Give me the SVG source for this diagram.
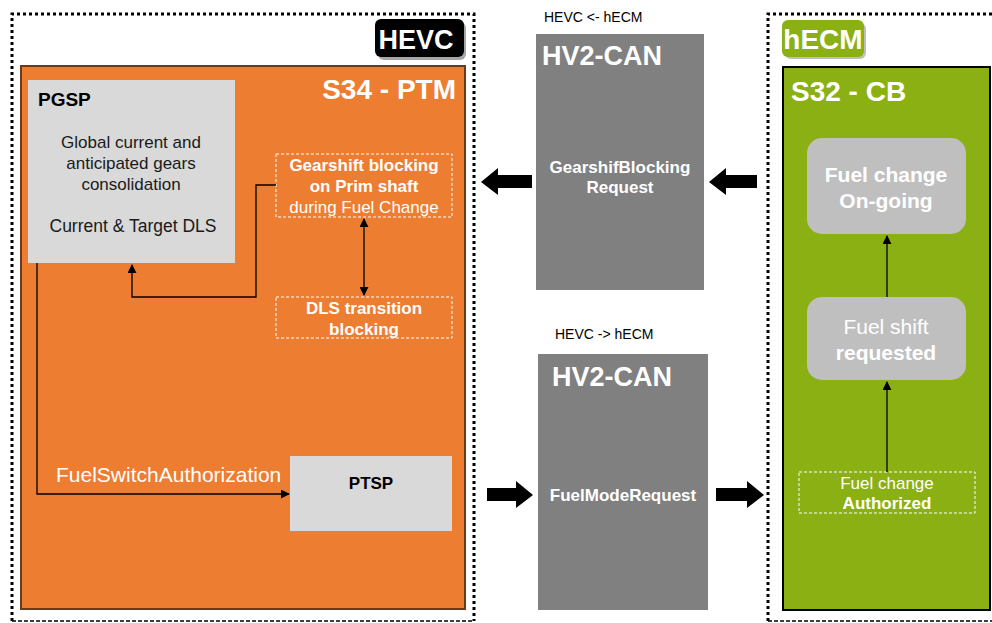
<svg xmlns="http://www.w3.org/2000/svg" width="992" height="623" viewBox="0 0 992 623">
<defs>
<style>
text{font-family:"Liberation Sans",Arial,sans-serif}
.dot{fill:none;stroke:#000;stroke-width:3;stroke-dasharray:3 3}
.dash{fill:none;stroke:#000;stroke-width:1.5;stroke-dasharray:4 2}
.w{fill:#fff}
.b{font-weight:bold}
.wd{fill:none;stroke:#fff;stroke-width:1;stroke-dasharray:3 2}
.ln{fill:none;stroke:#000;stroke-width:1.3}
.blk{fill:#000}
</style>
<marker id="ah" viewBox="0 0 10 10" refX="9" refY="5" markerWidth="9" markerHeight="9" markerUnits="userSpaceOnUse" orient="auto-start-reverse"><path d="M0,0 L10,5 L0,10 z" fill="#000"/></marker>
</defs>
<rect width="992" height="623" fill="#fff"/>

<g id="hevc">
<path class="dot" d="M12,621 V14 H474 V621"/>
<path class="dash" d="M12,621 H474"/>
<rect x="378" y="22" width="88" height="38" rx="6" fill="#000" opacity="0.35"/>
<rect x="375" y="19" width="89" height="38" rx="6" fill="#000"/>
<text x="416" y="49" text-anchor="middle" class="w b" font-size="27">HEVC</text>
</g>

<g id="s34">
<rect x="21" y="66" width="444" height="543" fill="#ED7D31" stroke="#6B3A1A" stroke-width="2"/>
<text x="456" y="99" text-anchor="end" class="w b" font-size="28">S34 - PTM</text>
</g>

<g id="pgsp">
<rect x="28" y="80" width="207" height="183" fill="#D9D9D9"/>
<text x="38" y="106" class="b" font-size="19">PGSP</text>
<text x="131" y="148" text-anchor="middle" font-size="17" fill="#1a1a1a">Global current and</text>
<text x="131" y="169" text-anchor="middle" font-size="17" fill="#1a1a1a">anticipated gears</text>
<text x="131" y="190" text-anchor="middle" font-size="17" fill="#1a1a1a">consolidation</text>
<text x="133" y="232" text-anchor="middle" font-size="17.5" fill="#1a1a1a">Current &amp; Target DLS</text>
</g>

<g id="gearshift">
<rect x="276" y="154" width="176" height="63" class="wd"/>
<text x="364" y="171" text-anchor="middle" class="w b" font-size="17">Gearshift blocking</text>
<text x="364" y="192" text-anchor="middle" class="w b" font-size="17">on Prim shaft</text>
<text x="364" y="213" text-anchor="middle" class="w" font-size="17">during Fuel Change</text>
</g>

<g id="dls">
<rect x="276" y="297" width="176" height="41" class="wd"/>
<text x="364" y="314" text-anchor="middle" class="w b" font-size="17">DLS transition</text>
<text x="364" y="335" text-anchor="middle" class="w b" font-size="17">blocking</text>
</g>

<g id="ptsp">
<rect x="290" y="456" width="162" height="75" fill="#D9D9D9"/>
<text x="371" y="489" text-anchor="middle" class="b" font-size="17">PTSP</text>
</g>

<g id="can1">
<text x="544" y="22" font-size="14" fill="#000">HEVC &lt;- hECM</text>
<rect x="536" y="34" width="168" height="256" fill="#808080"/>
<text x="542" y="65" class="w b" font-size="27">HV2-CAN</text>
<text x="620" y="173" text-anchor="middle" class="w b" font-size="17">GearshifBlocking</text>
<text x="620" y="193" text-anchor="middle" class="w b" font-size="17">Request</text>
</g>

<g id="can2">
<text x="555" y="339" font-size="14" fill="#000">HEVC -&gt; hECM</text>
<rect x="538" y="354" width="170" height="256" fill="#808080"/>
<text x="552" y="386" class="w b" font-size="27">HV2-CAN</text>
<text x="623" y="501" text-anchor="middle" class="w b" font-size="17">FuelModeRequest</text>
</g>

<g id="hecm">
<path class="dot" d="M768,621 V14 H992"/>
<path class="dash" d="M768,621 H992"/>
<rect x="785" y="23" width="81" height="36" rx="6" fill="#000" opacity="0.25"/>
<rect x="782" y="20" width="82" height="37" rx="6" fill="#8BB014"/>
<text x="823" y="49" text-anchor="middle" class="w b" font-size="28">hECM</text>
</g>

<g id="s32">
<rect x="783" y="67" width="207" height="543" fill="#8BB014" stroke="#000" stroke-width="2"/>
<text x="791" y="101" class="w b" font-size="28">S32 - CB</text>
</g>

<g id="ongoing">
<rect x="807" y="138" width="159" height="96" rx="15" fill="#BFBFBF"/>
<text x="886" y="182" text-anchor="middle" class="w b" font-size="21">Fuel change</text>
<text x="886" y="208" text-anchor="middle" class="w b" font-size="21">On-going</text>
</g>

<g id="shift">
<rect x="807" y="297" width="159" height="83" rx="15" fill="#BFBFBF"/>
<text x="886" y="334" text-anchor="middle" class="w" font-size="21">Fuel shift</text>
<text x="886" y="360" text-anchor="middle" class="w b" font-size="21">requested</text>
</g>

<g id="authorized">
<rect x="799" y="472" width="176" height="41" class="wd"/>
<text x="887" y="489" text-anchor="middle" class="w" font-size="17">Fuel change</text>
<text x="887" y="509" text-anchor="middle" class="w b" font-size="17">Authorized</text>
</g>

<g id="connectors">
<path class="ln" d="M276,185 H256 V297 H132 V265" marker-end="url(#ah)"/>
<path class="ln" d="M364,219 V295" marker-start="url(#ah)" marker-end="url(#ah)"/>
<path class="ln" d="M37,263 V494 H289" marker-end="url(#ah)"/>
<text x="56" y="482" class="w" font-size="21">FuelSwitchAuthorization</text>
<path class="ln" d="M887,297 V236" marker-end="url(#ah)"/>
<path class="ln" d="M887,472 V382" marker-end="url(#ah)"/>
<path class="blk" d="M481,182 L498,168 V175 H532 V188 H498 V195 Z"/>
<path class="blk" d="M709,182 L726,168 V175 H757 V188 H726 V195 Z"/>
<path class="blk" d="M533,495 L516,481 V488 H487 V501 H516 V508 Z"/>
<path class="blk" d="M764,495 L747,481 V488 H716 V501 H747 V508 Z"/>
</g>
</svg>
